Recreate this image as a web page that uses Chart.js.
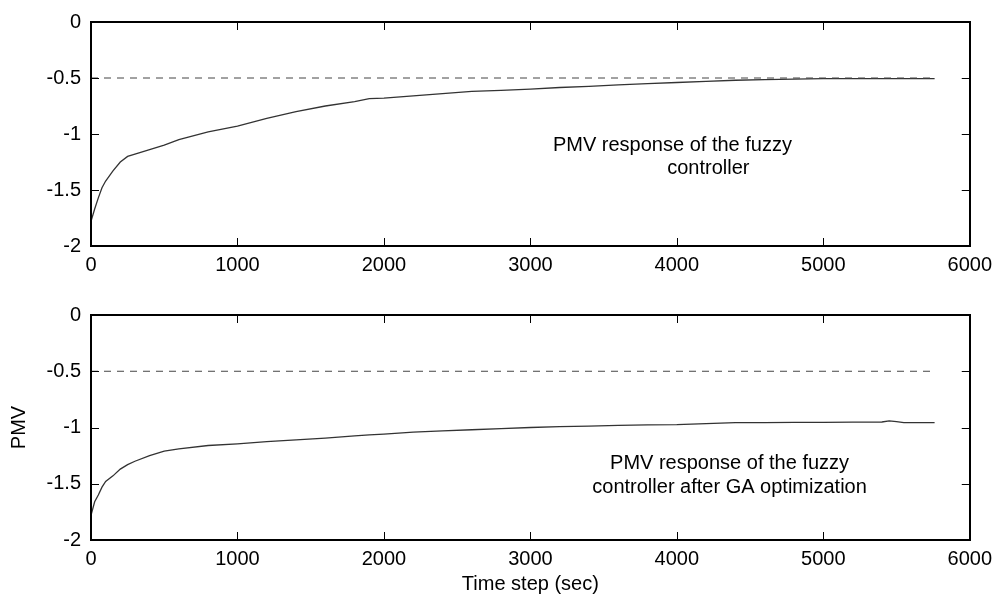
<!DOCTYPE html>
<html>
<head>
<meta charset="utf-8">
<script src="https://cdn.jsdelivr.net/npm/chart.js@4.4.1/dist/chart.umd.min.js"></script>
<style>
  html, body { margin: 0; padding: 0; background: #fff; }
  #wrap { position: relative; width: 999px; height: 600px; }
  #topPlot { position: absolute; left: 0; top: 0; }
  #bottomPlot { position: absolute; left: 0; top: 293px; }
</style>
</head>
<body>
<div id="wrap">
  <canvas id="topPlot" width="999" height="280"></canvas>
  <canvas id="bottomPlot" width="999" height="307"></canvas>
</div>
<script>
const timeSteps = [0, 25, 50, 75, 100, 150, 200, 250, 300, 400, 500, 600, 800, 1000, 1200, 1400,
  1600, 1800, 1900, 2000, 2200, 2400, 2600, 2800, 3000, 3200, 3400, 3600, 3800, 4000, 4200,
  4400, 4600, 4800, 5000, 5200, 5400, 5450, 5500, 5550, 5600, 5760];

// PMV with the plain fuzzy controller
const pmvFuzzy = [-1.78, -1.67, -1.57, -1.48, -1.42, -1.33, -1.25, -1.20, -1.18, -1.14, -1.10,
  -1.05, -0.98, -0.93, -0.86, -0.80, -0.75, -0.71, -0.685, -0.68, -0.66, -0.64, -0.62, -0.61,
  -0.60, -0.585, -0.575, -0.562, -0.55, -0.54, -0.53, -0.52, -0.515, -0.51, -0.505, -0.505,
  -0.505, -0.505, -0.505, -0.505, -0.505, -0.505];

// PMV after GA optimization
const pmvGA = [-1.78, -1.66, -1.60, -1.53, -1.48, -1.43, -1.37, -1.33, -1.30, -1.25, -1.21,
  -1.19, -1.16, -1.145, -1.125, -1.11, -1.095, -1.075, -1.065, -1.058, -1.042, -1.03, -1.02,
  -1.01, -1.0, -0.993, -0.988, -0.982, -0.977, -0.975, -0.965, -0.957, -0.956, -0.955, -0.954,
  -0.953, -0.951, -0.942, -0.948, -0.957, -0.957, -0.957];

// set point (dashed)
const setPointTime = [0, 5760];
const setPointPMV = [-0.5, -0.5];

const xTicks = [0, 1000, 2000, 3000, 4000, 5000, 6000];
const yTicks = [0, -0.5, -1, -1.5, -2];

const topNote = [
  { text: 'PMV response of the fuzzy', x: 3970, y: -1.10 },
  { text: 'controller', x: 4215, y: -1.305 }
];
const bottomNote = [
  { text: 'PMV response of the fuzzy', x: 4360, y: -1.32 },
  { text: 'controller after GA optimization', x: 4360, y: -1.535 }
];

const FONT = "'Liberation Sans', Arial, Helvetica, sans-serif";
const FSIZE = 20;

const toPts = (xs, ys) => xs.map((x, i) => ({ x: x, y: ys[i] }));

// MATLAB-like box with inward ticks + text notes
const boxPlugin = {
  id: 'box',
  afterDraw(chart, args, opts) {
    const { ctx, chartArea: a, scales } = chart;
    ctx.save();
    ctx.strokeStyle = '#000';
    ctx.lineWidth = 2;
    ctx.strokeRect(Math.round(a.left), Math.round(a.top), Math.round(a.right - a.left), Math.round(a.bottom - a.top));
    const len = 8;
    ctx.lineWidth = 1;
    ctx.beginPath();
    xTicks.forEach(v => {
      const px = Math.round(scales.x.getPixelForValue(v)) + 0.5;
      ctx.moveTo(px, a.bottom); ctx.lineTo(px, a.bottom - len);
      ctx.moveTo(px, a.top); ctx.lineTo(px, a.top + len);
    });
    yTicks.forEach(v => {
      const py = Math.round(scales.y.getPixelForValue(v)) + 0.5;
      ctx.moveTo(a.left, py); ctx.lineTo(a.left + len, py);
      ctx.moveTo(a.right, py); ctx.lineTo(a.right - len, py);
    });
    ctx.stroke();
    ctx.fillStyle = '#000';
    ctx.font = FSIZE + 'px ' + FONT;
    ctx.textAlign = 'center';
    ctx.textBaseline = 'middle';
    (opts.notes || []).forEach(n => {
      ctx.fillText(n.text, scales.x.getPixelForValue(n.x), scales.y.getPixelForValue(n.y));
    });
    ctx.restore();
  }
};

function makePlot(id, series, notes, xAxisH, showTitles) {
  return new Chart(document.getElementById(id), {
    type: 'line',
    data: {
      datasets: [
        {
          data: toPts(setPointTime, setPointPMV),
          borderColor: '#444',
          borderWidth: 1,
          borderDash: [7, 6],
          pointRadius: 0
        },
        {
          data: toPts(timeSteps, series),
          borderColor: '#333',
          borderWidth: 1.3,
          pointRadius: 0,
          tension: 0
        }
      ]
    },
    options: {
      responsive: false,
      animation: false,
      layout: { padding: { top: 15, right: 27, left: 0, bottom: 0 } },
      plugins: {
        legend: { display: false },
        tooltip: { enabled: false },
        box: { notes: notes }
      },
      scales: {
        x: {
          type: 'linear',
          min: 0, max: 6000,
          afterBuildTicks: s => { s.ticks = xTicks.map(v => ({ value: v })); },
          afterFit: s => { s.height = xAxisH; },
          grid: { display: false, drawTicks: false },
          border: { display: false },
          ticks: {
            autoSkip: false, maxRotation: 0, padding: 7, color: '#000',
            font: { family: FONT, size: FSIZE },
            callback: v => String(v)
          },
          title: {
            display: showTitles, text: 'Time step (sec)', color: '#000',
            font: { family: FONT, size: FSIZE }, padding: { top: 0, bottom: 4 }
          }
        },
        y: {
          min: -2, max: 0,
          afterBuildTicks: s => { s.ticks = yTicks.map(v => ({ value: v })); },
          afterFit: s => { s.width = 91; },
          grid: { display: false, drawTicks: false },
          border: { display: false },
          ticks: {
            padding: 10, color: '#000',
            font: { family: FONT, size: FSIZE },
            callback: v => String(v)
          },
          title: {
            display: showTitles, text: 'PMV', color: '#000',
            font: { family: FONT, size: FSIZE }, padding: { top: 7, bottom: 0 }
          }
        }
      }
    },
    plugins: [boxPlugin]
  });
}

makePlot('topPlot', pmvFuzzy, topNote, 34, false);
makePlot('bottomPlot', pmvGA, bottomNote, 60, true);
</script>
</body>
</html>
